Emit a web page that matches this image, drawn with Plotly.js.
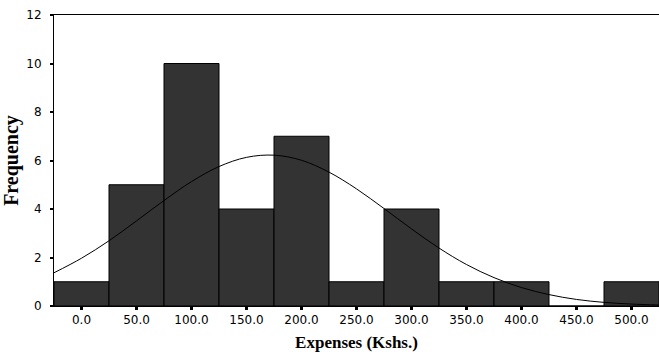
<!DOCTYPE html>
<html><head><meta charset="utf-8">
<script src="https://cdn.plot.ly/plotly-3.0.1.min.js"></script>
<style>html,body{margin:0;padding:0;background:#fff}#chart{width:659px;height:354px}</style>
</head><body><div id="chart"></div>
<script>
var binCenters = [0, 50, 100, 150, 200, 250, 300, 350, 400, 450, 500];
var frequencies = [1, 5, 10, 4, 7, 1, 4, 1, 1, 0, 1];
var tickLabels = ["0.0","50.0","100.0","150.0","200.0","250.0","300.0","350.0","400.0","450.0","500.0"];
var curveX = [-25, 0, 25, 50, 75, 100, 125, 150, 175, 200, 225, 250, 275, 300, 325, 350, 375, 400, 425, 450, 475, 500, 525];
var curveY = [1.37, 1.97, 2.69, 3.51, 4.35, 5.13, 5.75, 6.13, 6.22, 6.01, 5.52, 4.83, 4.02, 3.18, 2.39, 1.71, 1.17, 0.76, 0.47, 0.27, 0.15, 0.08, 0.04];

var traces = [
  {type:'bar', x:binCenters, y:frequencies, width:50,
   marker:{color:'#333333', line:{color:'#000000', width:1}}, hoverinfo:'x+y'},
  {type:'scatter', mode:'lines', x:curveX, y:curveY, line:{color:'#000000', width:1, shape:'spline'}}
];
var layout = {
  width:659, height:354, showlegend:false,
  margin:{l:54, r:0, t:15, b:48},
  paper_bgcolor:'#fff', plot_bgcolor:'#fff',
  bargap:0,
  font:{family:'DejaVu Sans, Verdana, sans-serif', size:12, color:'#000'},
  xaxis:{range:[-25,525], tickvals:binCenters, ticktext:tickLabels,
    showline:true, linecolor:'#000', linewidth:1, mirror:true,
    ticks:'outside', ticklen:3, tickwidth:3, tickcolor:'#000',
    showgrid:false, zeroline:false,
    tickfont:{size:12},
    title:{text:'Expenses (Kshs.)', font:{family:'Liberation Serif, Times New Roman, serif', size:17, color:'#000', weight:'bold'}, standoff:9}},
  yaxis:{range:[0,12], dtick:2, tick0:0,
    showline:true, linecolor:'#000', linewidth:1, mirror:false,
    ticks:'outside', ticklen:3, tickwidth:2, tickcolor:'#000',
    ticklabelstandoff:6,
    showgrid:false, zeroline:false,
    tickfont:{size:12},
    title:{text:'Frequency', font:{family:'Liberation Serif, Times New Roman, serif', size:20, color:'#000', weight:'bold'}, standoff:8}}
};
Plotly.newPlot('chart', traces, layout, {displayModeBar:false, staticPlot:true});
</script></body></html>
